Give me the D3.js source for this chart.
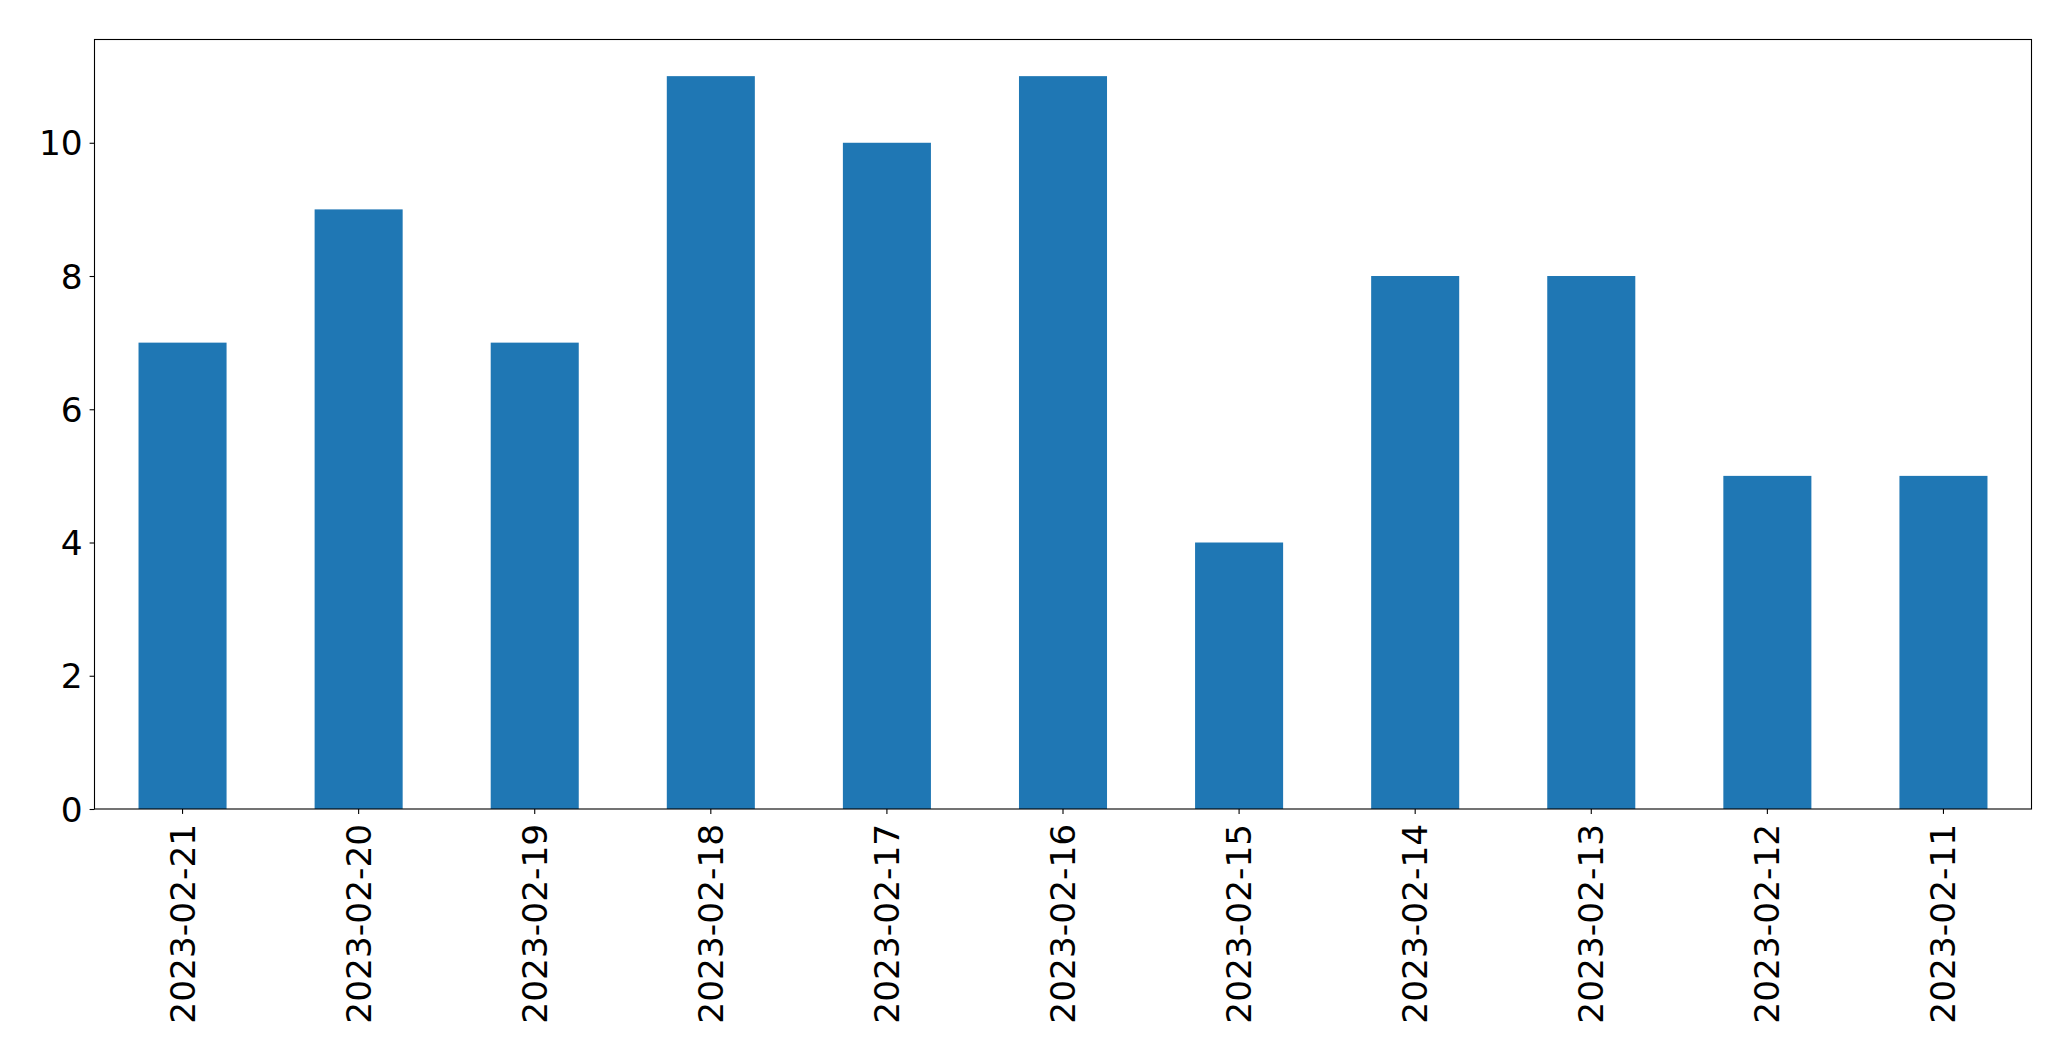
<!DOCTYPE html>
<html>
<head>
<meta charset="utf-8">
<script src="https://cdn.jsdelivr.net/npm/d3@7"></script>
<style>
  body { margin: 0; background: #fff; }
  text { font-family: "DejaVu Sans", sans-serif; fill: #000; }
</style>
</head>
<body>
<div id="chart"></div>
<script>
// dates in the order they appear on the x axis
const dates = ["2023-02-21", "2023-02-20", "2023-02-19", "2023-02-18", "2023-02-17",
               "2023-02-16", "2023-02-15", "2023-02-14", "2023-02-13", "2023-02-12", "2023-02-11"];
const counts = [7, 9, 7, 11, 10, 11, 4, 8, 8, 5, 5];
const yTicks = [0, 2, 4, 6, 8, 10];

const width = 2071;
const height = 1061;
const margin = {top: 39.5, right: 39.5, bottom: 252, left: 94.5};
const fontSize = 34.4;
const tickLen = 4.9;
const pad = 4.9;

const svg = d3.select("#chart")
    .append("svg")
    .attr("width", width)
    .attr("height", height);

const x = d3.scaleBand()
    .domain(dates)
    .range([margin.left, width - margin.right])
    .paddingInner(0.5)
    .paddingOuter(0.25);

const y = d3.scaleLinear()
    .domain([0, d3.max(counts) * 1.05])
    .range([height - margin.bottom, margin.top]);

// bars
svg.append("g")
    .selectAll("rect")
    .data(dates)
    .enter().append("rect")
    .attr("x", d => x(d))
    .attr("width", x.bandwidth())
    .attr("y", (d, i) => y(counts[i]))
    .attr("height", (d, i) => y(0) - y(counts[i]))
    .attr("fill", "#1f77b4");

// x axis
const xAxis = svg.append("g")
    .attr("transform", `translate(0,${height - margin.bottom})`)
    .call(d3.axisBottom(x).tickSize(tickLen).tickSizeOuter(0).tickPadding(pad));
xAxis.select(".domain").remove();
xAxis.selectAll(".tick line").attr("stroke", "#000").attr("stroke-width", 1.1);
xAxis.selectAll(".tick text")
    .attr("font-size", fontSize)
    .attr("transform", "rotate(-90)")
    .attr("text-anchor", "end")
    .attr("dominant-baseline", "central")
    .attr("x", -(tickLen + pad + 5))
    .attr("y", 0)
    .attr("dy", null);

// y axis
const yAxis = svg.append("g")
    .attr("transform", `translate(${margin.left},0)`)
    .call(d3.axisLeft(y).tickValues(yTicks).tickSize(tickLen).tickPadding(pad + 2));
yAxis.select(".domain").remove();
yAxis.selectAll(".tick line").attr("stroke", "#000").attr("stroke-width", 1.1);
yAxis.selectAll(".tick text")
    .attr("font-size", fontSize)
    .attr("dominant-baseline", "central")
    .attr("dy", null);

// frame
svg.append("rect")
    .attr("x", margin.left)
    .attr("y", margin.top)
    .attr("width", width - margin.left - margin.right)
    .attr("height", height - margin.top - margin.bottom)
    .attr("fill", "none")
    .attr("stroke", "#000")
    .attr("stroke-width", 1.1);
</script>
</body>
</html>
